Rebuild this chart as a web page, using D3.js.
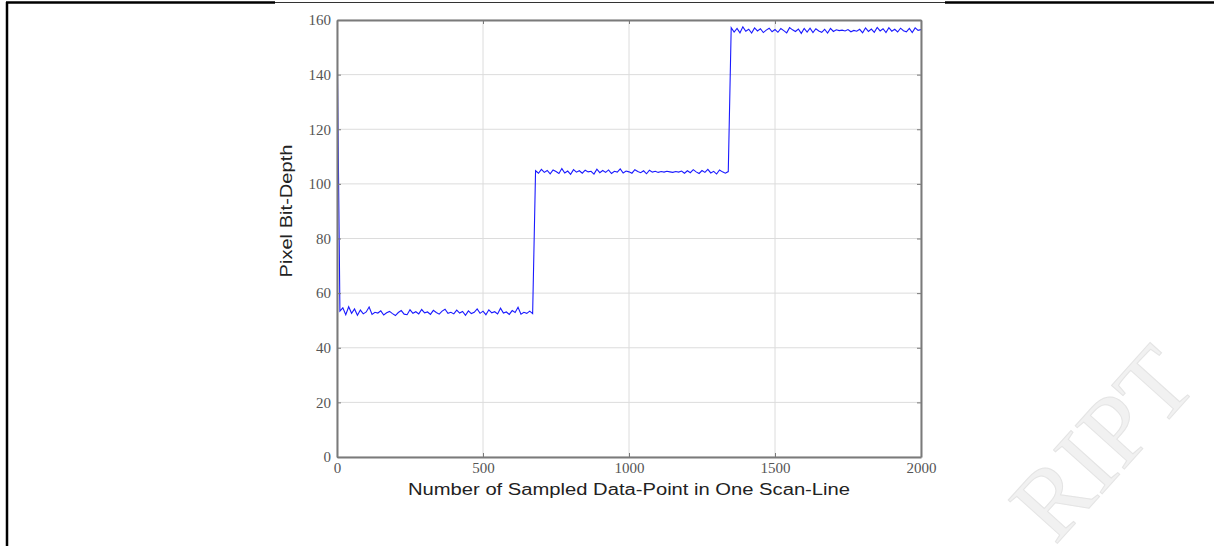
<!DOCTYPE html>
<html><head><meta charset="utf-8">
<script src="https://cdn.jsdelivr.net/npm/d3@7/dist/d3.min.js"></script>
<style>html,body{margin:0;padding:0;background:#fff;}svg{display:block;}</style>
</head><body>
<script>
// ---- data ----
const sampleStep = 10;
const seg1Start = 0;
const seg1 = [157.5, 53.4, 54.6, 52.1, 55.0, 52.6, 54.2, 51.9, 53.8, 52.4,
  53.1, 54.9, 52.2, 53.0, 52.7, 53.5, 52.0, 52.8, 53.3, 52.5,
  51.8, 52.9, 53.6, 52.3, 52.1, 53.9, 52.6, 53.2, 52.4, 54.0,
  52.8, 53.1, 52.2, 53.7, 52.9, 52.3, 53.4, 54.1, 52.6, 53.0,
  52.4, 53.8, 52.7, 53.3, 51.9, 53.5, 52.5, 53.0, 54.2, 52.6,
  53.4, 52.1, 53.9, 52.8, 53.2, 52.4, 54.5, 52.7, 53.1, 52.2,
  53.6, 52.9, 54.8, 52.3, 53.0, 52.6, 53.4, 52.5];
const seg2Start = 680;
const seg2 = [104.8, 103.9, 105.3, 104.2, 104.9, 103.7, 105.1, 104.5, 103.8, 105.6,
  104.0, 104.7, 103.5, 105.2, 104.3, 104.8, 103.9, 105.0, 104.4, 104.6,
  103.6, 105.4, 104.1, 104.9, 104.2, 105.1, 103.8, 104.6, 104.3, 105.5,
  104.0, 104.7, 104.4, 103.9, 105.2, 104.5, 104.1, 104.8, 103.7, 105.0,
  104.3, 104.6, 104.2, 104.5, 104.3, 104.6, 104.4, 104.2, 104.5, 104.3,
  104.7, 103.9, 104.8, 104.1, 105.2, 104.4, 103.8, 104.9, 104.2, 105.3,
  104.0, 104.6, 103.6, 105.1, 104.4, 103.9, 104.5];
const seg3Start = 1350;
const seg3 = [157.2, 155.6, 156.9, 155.3, 157.5, 155.9, 156.6, 155.2, 157.1, 156.0,
  156.8, 155.4, 156.3, 157.0, 155.7, 156.5, 155.5, 156.9, 156.1, 155.3,
  157.2, 156.4, 155.8, 156.7, 155.1, 156.9, 155.6, 157.0, 155.4, 156.8,
  156.0, 155.5, 156.6, 155.2, 156.9, 155.8, 156.4, 156.1, 156.3, 156.0,
  156.5, 155.7, 156.2, 155.9, 156.6, 155.3, 157.1, 155.8, 156.7, 155.5,
  157.3, 156.0, 156.8, 155.4, 157.2, 155.9, 156.6, 155.6, 157.0, 156.1,
  155.7, 156.9, 155.4, 157.1, 156.2, 156.5];
const xTicks = [0, 500, 1000, 1500, 2000];
const yTicks = [0, 20, 40, 60, 80, 100, 120, 140, 160];
const xLabel = "Number of Sampled Data-Point in One Scan-Line";
const yLabel = "Pixel Bit-Depth";
const watermark = "RIPT";

// ---- build points ----
const points = [];
[[seg1Start, seg1], [seg2Start, seg2], [seg3Start, seg3]].forEach(([s, arr]) => {
  arr.forEach((v, i) => points.push([s + i * sampleStep, v]));
});

const W = 1214, H = 546;
const svg = d3.select("body").append("svg").attr("width", W).attr("height", H);

// watermark
svg.append("text")
  .attr("transform", "translate(1200,385) rotate(-48)")
  .attr("text-anchor", "end")
  .attr("font-family", "Liberation Serif")
  .attr("font-size", 100)
  .attr("fill", "#f1f1f1")
  .attr("stroke", "#e4e4e4")
  .attr("stroke-width", 1)
  .text(watermark);

// page frame
svg.append("line").attr("x1", 7).attr("x2", 7).attr("y1", 2).attr("y2", H).attr("stroke", "#000").attr("stroke-width", 2.5);
svg.append("line").attr("x1", 6).attr("x2", 275).attr("y1", 2.5).attr("y2", 2.5).attr("stroke", "#000").attr("stroke-width", 2.5);
svg.append("line").attr("x1", 945).attr("x2", W).attr("y1", 2.5).attr("y2", 2.5).attr("stroke", "#000").attr("stroke-width", 2.5);
svg.append("line").attr("x1", 275).attr("x2", 945).attr("y1", 2.5).attr("y2", 2.5).attr("stroke", "#333").attr("stroke-width", 1);

const L = 337, R = 921, T = 20, B = 457;
const x = d3.scaleLinear().domain([0, 2000]).range([L, R]);
const y = d3.scaleLinear().domain([0, 160]).range([B, T]);

// grid
const g = svg.append("g");
g.selectAll(".gx").data(xTicks).join("line")
  .attr("x1", d => x(d)).attr("x2", d => x(d)).attr("y1", T).attr("y2", B)
  .attr("stroke", "#dcdcdc").attr("stroke-width", 1);
g.selectAll(".gy").data(yTicks).join("line")
  .attr("x1", L).attr("x2", R).attr("y1", d => y(d)).attr("y2", d => y(d))
  .attr("stroke", "#dcdcdc").attr("stroke-width", 1);

// data line
svg.append("defs").append("clipPath").attr("id", "clip")
  .append("rect").attr("x", L).attr("y", T - 2).attr("width", R - L).attr("height", B - T + 4);
svg.append("path").datum(points)
  .attr("clip-path", "url(#clip)")
  .attr("fill", "none").attr("stroke", "#1a1aff").attr("stroke-width", 1.1)
  .attr("d", d3.line().x(d => x(d[0])).y(d => y(d[1])));

// axes (inward ticks)
const tickLen = 4;
const fmt = d3.format("d");
const axB = svg.append("g").attr("transform", `translate(0,${B})`)
  .call(d3.axisBottom(x).tickValues(xTicks).tickFormat(fmt).tickSizeInner(-tickLen).tickSizeOuter(0).tickPadding(8));
const axT = svg.append("g").attr("transform", `translate(0,${T})`)
  .call(d3.axisTop(x).tickValues(xTicks).tickSizeInner(-tickLen).tickSizeOuter(0).tickFormat(""));
const axL = svg.append("g").attr("transform", `translate(${L},0)`)
  .call(d3.axisLeft(y).tickValues(yTicks).tickFormat(fmt).tickSizeInner(-tickLen).tickSizeOuter(0).tickPadding(6));
const axR = svg.append("g").attr("transform", `translate(${R},0)`)
  .call(d3.axisRight(y).tickValues(yTicks).tickSizeInner(-tickLen).tickSizeOuter(0).tickFormat(""));
[axB, axT, axL, axR].forEach(a => {
  a.select(".domain").attr("stroke", "#7a7a7a").attr("stroke-width", 2);
  a.selectAll(".tick line").attr("stroke", "#7a7a7a");
  a.selectAll("text").attr("font-family", "Liberation Serif").attr("font-size", 15).attr("fill", "#555");
});
axB.selectAll("text").attr("dy", "0.55em");

// axis labels
svg.append("text").attr("x", (L + R) / 2).attr("y", 495)
  .attr("text-anchor", "middle").attr("font-family", "Liberation Sans").attr("font-size", 16)
  .attr("fill", "#222").attr("textLength", 442).attr("lengthAdjust", "spacingAndGlyphs")
  .text(xLabel);
svg.append("text").attr("transform", "translate(292,211) rotate(-90)")
  .attr("text-anchor", "middle").attr("font-family", "Liberation Sans").attr("font-size", 16)
  .attr("fill", "#222").attr("textLength", 133).attr("lengthAdjust", "spacingAndGlyphs")
  .text(yLabel);
</script>
</body></html>
